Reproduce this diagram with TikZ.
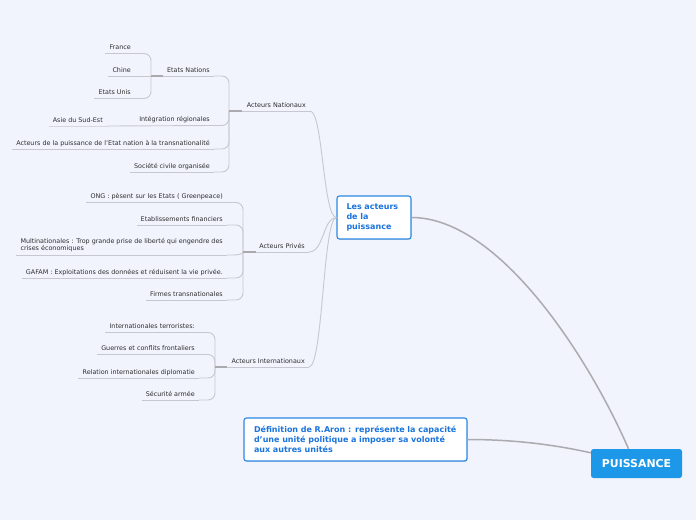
\documentclass[tikz,border=0pt]{standalone}
\usepackage{fontspec}
\setmainfont{DejaVu Sans}
\usetikzlibrary{shadows}
\definecolor{bg}{HTML}{F1F4FD}
\definecolor{lnk}{HTML}{C6C7CF}
\definecolor{stubc}{HTML}{A9A9AE}
\definecolor{mainc}{HTML}{ABABAF}
\definecolor{bluetxt}{HTML}{1A74DC}
\definecolor{blueborder}{HTML}{2C88E4}
\definecolor{puis}{HTML}{1D97E8}
\definecolor{txt}{HTML}{2E2E2E}
\begin{document}
\begin{tikzpicture}[x=1pt,y=-1pt,
  topic/.style={anchor=south east, inner xsep=4pt, inner ysep=2.5pt, text height=4.7pt, text depth=1.3pt, font=\fontsize{6.4}{7.8}\selectfont, text=txt},
  topictwo/.style={anchor=south east, inner xsep=4pt, inner ysep=2.5pt, align=left, font=\fontsize{6.4}{7.8}\selectfont, text=txt},
  ul/.style={draw=lnk, line width=0.9pt},
  con/.style={draw=lnk, line width=0.9pt, rounded corners=7pt},
  stubline/.style={draw=stubc, line width=1.8pt},
  bluebox/.style={draw=blueborder, fill=white, line width=1.1pt, rounded corners=2.5pt, text=bluetxt, align=left, drop shadow={shadow xshift=0.6pt, shadow yshift=-0.8pt, opacity=0.25}},
  mainline/.style={draw=mainc, line width=1.5pt}
]
\fill[bg] (0,0) rectangle (696,520);
\useasboundingbox (0,0) rectangle (696,520);

% connection points
\coordinate (cAN) at (229,111);
\coordinate (cEN) at (151,76);
\coordinate (cIR) at (108,126);
\coordinate (cPR) at (243,252);
\coordinate (cAI) at (215,367);

% main boxes
\node[bluebox, text width=55pt, inner xsep=9.5pt, minimum height=43pt, font=\bfseries\fontsize{8}{10.2}\selectfont] (la) at (374,217.5) {Les acteurs\\de la\\puissance};
\node[bluebox, text width=203pt, inner xsep=10pt, minimum height=43pt, font=\bfseries\fontsize{8}{10}\selectfont] (def) at (355.5,439.5) {Définition de R.Aron : représente la capacité\\d'une unité politique a imposer sa volonté\\aux autres unités};
\node[fill=puis, rounded corners=2.5pt, minimum width=91pt, minimum height=29pt, text=white, font=\bfseries\fontsize{10.9}{12}\selectfont] (P) at (636.5,463.5) {PUISSANCE};

\draw[mainline] (la.east) .. controls (500,217.5) and (590,360) .. ([xshift=-8pt]P.north);
\draw[mainline] (def.east) .. controls (520,439.5) and (560,446) .. ([yshift=-4pt]P.north west);

% level 1 topics
\node[topic] (an) at (310,111) {Acteurs Nationaux};
\node[topic] (pr) at (309,252) {Acteurs Privés};
\node[topic] (ai) at (309,367) {Acteurs Internationaux};

\draw[ul] (an.south east) .. controls (323,111) and (323,217.5) .. (la.west);
\draw[ul] (pr.south east) .. controls (324,252) and (323,217.5) .. (la.west);
\draw[ul] (ai.south east) .. controls (323,367) and (323,217.5) .. (la.west);
\draw[ul] (cAN) -- (an.south east);
\draw[ul] (cPR) -- (pr.south east);
\draw[ul] (cAI) -- (ai.south east);

% Acteurs Nationaux children
\node[topic] (en) at (214,76) {Etats Nations};
\node[topic] (ir) at (214,125.5) {Intégration régionales};
\node[topic] (ap) at (214,149) {Acteurs de la puissance de l'Etat nation à la transnationalité};
\node[topic] (sc) at (214,172) {Société civile organisée};
\draw[con] (cAN) |- (en.south east);
\draw[con] (cAN) |- (ir.south east);
\draw[con] (cAN) |- (ap.south east);
\draw[con] (cAN) |- (sc.south east);
\draw[ul] (cEN) -- (en.south east);
\draw[ul] (cIR) -- (ir.south east);
\draw[ul] (ap.south west) -- (ap.south east);
\draw[ul] (sc.south west) -- (sc.south east);

% Etats Nations children
\node[topic] (fr) at (135,53.5) {France};
\node[topic] (ch) at (135,76) {Chine};
\node[topic] (eu) at (135,98.5) {Etats Unis};
\draw[con] (cEN) |- (fr.south east);
\draw[con] (cEN) -- (ch.south east);
\draw[con] (cEN) |- (eu.south east);
\draw[ul] (fr.south west) -- (fr.south east);
\draw[ul] (ch.south west) -- (ch.south east);
\draw[ul] (eu.south west) -- (eu.south east);

% Integration child
\node[topic] (as) at (107,126) {Asie du Sud-Est};
\draw[ul] (as.south west) -- (as.south east) -- (cIR);

% Acteurs Prives children
\node[topic] (ong) at (227,202.5) {ONG : pèsent sur les Etats ( Greenpeace)};
\node[topic] (ef) at (227,225) {Etablissements financiers};
\node[topictwo] (mn) at (227,255) {Multinationales : Trop grande prise de liberté qui engendre des\\crises économiques};
\node[topic] (gf) at (227,278) {GAFAM : Exploitations des données et réduisent la vie privée.};
\node[topic] (ft) at (227,300) {Firmes transnationales};
\draw[con] (cPR) |- (ong.south east);
\draw[con] (cPR) |- (ef.south east);
\draw[ul] (cPR) .. controls (243,255) and (236,255) .. (mn.south east);
\draw[con] (cPR) |- (gf.south east);
\draw[con] (cPR) |- (ft.south east);
\foreach \n in {ong,ef,mn,gf,ft} {\draw[ul] (\n.south west) -- (\n.south east);}

% Acteurs Internationaux children
\node[topic] (it) at (199,332.5) {Internationales terroristes:};
\node[topic] (gc) at (199,354.5) {Guerres et conflits frontaliers};
\node[topic] (rd) at (199,378) {Relation internationales diplomatie};
\node[topic] (sa) at (199,400) {Sécurité armée};
\draw[con] (cAI) |- (it.south east);
\draw[con] (cAI) |- (gc.south east);
\draw[con] (cAI) |- (rd.south east);
\draw[con] (cAI) |- (sa.south east);
\foreach \n in {it,gc,rd,sa} {\draw[ul] (\n.south west) -- (\n.south east);}

% stubs
\draw[stubline] (cAN) -- ++(13,0);
\draw[stubline] (cEN) -- ++(12,0);
\draw[stubline] (cPR) -- ++(13,0);
\draw[stubline] (cAI) -- ++(12,0);
\end{tikzpicture}
\end{document}
